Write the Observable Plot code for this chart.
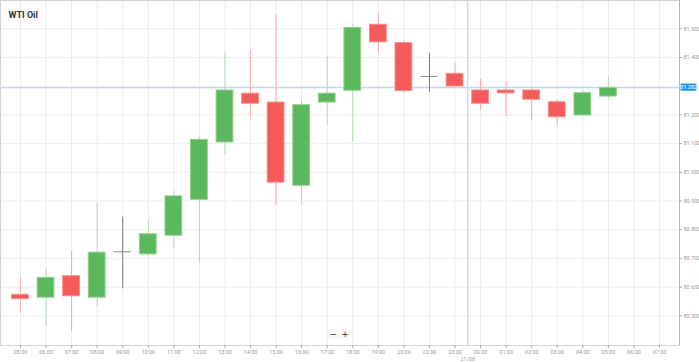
<!DOCTYPE html>
<html>
<head>
<meta charset="utf-8">
<script src="https://cdn.jsdelivr.net/npm/d3@7"></script>
<script src="https://cdn.jsdelivr.net/npm/@observablehq/plot@0.6"></script>
<style>
  html, body { margin: 0; padding: 0; background: #fff; }
  #wrap { position: relative; width: 699px; height: 362px; overflow: hidden; }
  #wrap svg { display: block; }
  #zoombtns { position: absolute; left: 328px; top: 329px; display: flex; gap: 2px; font-family: "DejaVu Sans", sans-serif; font-size: 9px; color: #444; }
  #zoombtns span { display: block; width: 10px; height: 10px; line-height: 10px; text-align: center; background: #f6f6f6; }
</style>
</head>
<body>
<div id="wrap"><div id="zoombtns"><span>&#8722;</span><span>+</span></div></div>
<script>
const hours = ["05:00","06:00","07:00","08:00","09:00","10:00","11:00","12:00","13:00","14:00","15:00","16:00","17:00","18:00","19:00","20:00","22:00","23:00","00:00","01:00","02:00","03:00","04:00","05:00","06:00","07:00"];
const open  = [80.573,80.563,80.638,80.563,80.723,80.714,80.779,80.904,81.104,81.274,81.243,80.953,81.243,81.284,81.514,81.450,81.334,81.343,81.285,81.285,81.285,81.244,81.198,81.264];
const close = [80.558,80.632,80.568,80.720,80.723,80.784,80.916,81.113,81.285,81.239,80.964,81.234,81.274,81.503,81.453,81.283,81.334,81.299,81.239,81.275,81.253,81.192,81.276,81.294];
const high  = [80.632,80.664,80.724,80.892,80.844,80.835,80.933,81.122,81.415,81.424,81.547,81.253,81.403,81.515,81.554,81.457,81.415,81.380,81.324,81.314,81.297,81.250,81.285,81.334];
const low   = [80.509,80.464,80.445,80.533,80.594,80.704,80.733,80.685,81.060,81.186,80.885,80.884,81.163,81.105,81.415,81.276,81.279,81.299,81.215,81.195,81.180,81.163,81.196,81.253];
const gridTicks = [80.5,80.6,80.7,80.8,80.9,81.0,81.1,81.2,81.3,81.4,81.5];
const labelTicks = [80.5,80.6,80.7,80.8,80.9,81.0,81.1,81.2,81.4,81.5];
const currentLevel = 81.295;
const currentLabel = "81.282";
const title = "WTI Oil";
const dateLabel = "21/06";
const dateIndex = 18;

const idx = d3.range(hours.length);
const candles = open.map((o, i) => ({i, open: o, close: close[i], high: high[i], low: low[i]}));
const dir = d => d.close > d.open ? "up" : d.close < d.open ? "down" : "flat";
const bodyFill = {up: "#5cb85c", down: "#f45b5b", flat: "#888"};
const bodyStroke = {up: "#8fd08a", down: "#f88a8a", flat: "#888"};
const wickColor = {up: "#b4deb0", down: "#f6aaaa", flat: "#777"};
const half = 12.78;

const chart = Plot.plot({
  width: 699, height: 362,
  marginLeft: 0, marginRight: 20, marginTop: 0, marginBottom: 17,
  style: {fontFamily: "Roboto, 'DejaVu Sans', sans-serif", background: "#fff"},
  x: {type: "band", domain: idx, range: [7.2, 671.8], padding: 0, round: false, axis: null, label: null},
  y: {domain: [80.3965, 81.5986], axis: null, label: null},
  marks: [
    Plot.ruleY(gridTicks, {stroke: "#eeeeee"}),
    Plot.ruleX(idx, {x: d => d, stroke: "#eeeeee"}),
    Plot.ruleX([dateIndex], {x: d => d, dx: -half, stroke: "#c8c8c8"}),
    Plot.frame({stroke: "#d4d4d4"}),
    Plot.ruleY([currentLevel], {stroke: "#b7dcf3", strokeWidth: 1.2}),
    Plot.ruleX(candles, {x: "i", y1: "low", y2: "high", stroke: d => wickColor[dir(d)]}),
    Plot.barY(candles.filter(d => dir(d) !== "flat"), {
      x: "i", y1: "open", y2: "close",
      fill: d => bodyFill[dir(d)], stroke: d => bodyStroke[dir(d)], strokeWidth: 1,
      insetLeft: 4.4, insetRight: 4.4
    }),
    Plot.tickY(candles.filter(d => dir(d) === "flat"), {x: "i", y: "open", stroke: "#888", insetLeft: 4.4, insetRight: 4.4}),
    Plot.axisY(labelTicks, {anchor: "right", label: null, tickFormat: d3.format(".3f"), tickSize: 2, tickPadding: 2, fontSize: 5.5, color: "#999", stroke: "#aaa"}),
    Plot.axisX(idx, {anchor: "bottom", label: null, tickFormat: i => hours[i], tickSize: 3, tickPadding: 2, fontSize: 5.5, color: "#999", stroke: "#aaa"}),
    Plot.text([dateLabel], {x: () => dateIndex, frameAnchor: "bottom", dx: -half, dy: 15, fontSize: 5.5, fill: "#999"}),
    Plot.text([title], {frameAnchor: "top-left", dx: 8, dy: 11, fontSize: 9, fontWeight: "bold", fill: "#333", textAnchor: "start"})
  ]
});

const svg = d3.select(chart);
// darker right axis line
svg.append("line").attr("x1", 679.5).attr("x2", 679.5).attr("y1", 0).attr("y2", 345).attr("stroke", "#b8b8b8");
// current price label box on the right axis
const yy = chart.scale("y").apply(currentLevel);
const g = svg.append("g");
g.append("rect").attr("x", 680.5).attr("y", yy - 3.6).attr("width", 16).attr("height", 7.2).attr("rx", 1).attr("fill", "#2196f3");
g.append("text").attr("x", 688.5).attr("y", yy).attr("dy", "0.34em").attr("text-anchor", "middle")
  .attr("font-size", 5.5).attr("font-family", "Roboto, sans-serif").attr("fill", "#fff").text(currentLabel);

document.getElementById("wrap").prepend(chart);
</script>
</body>
</html>
